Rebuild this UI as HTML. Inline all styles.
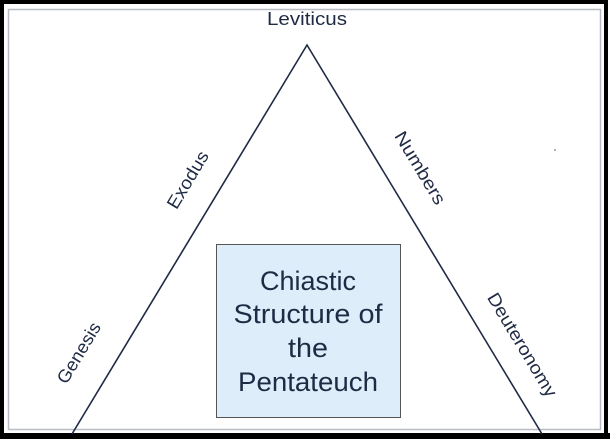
<!DOCTYPE html>
<html><head><style>
html,body{margin:0;padding:0;background:#fff;}
svg{display:block;}
text{font-family:"Liberation Sans",sans-serif;fill:#1f2a44;}
</style></head><body>
<svg width="610" height="439" viewBox="0 0 610 439" xmlns="http://www.w3.org/2000/svg">
<rect x="0" y="0" width="610" height="439" fill="#fff"/>
<rect x="2" y="2" width="604" height="433" fill="none" stroke="#000" stroke-width="4"/>
<rect x="0" y="433" width="610" height="6" fill="#000"/>
<rect x="8.5" y="9.5" width="592" height="420" fill="none" stroke="#b8bcc4" stroke-width="1.5"/>
<rect x="216.5" y="244.5" width="184" height="173" fill="#ddeefa" stroke="#555" stroke-width="1"/>
<polyline points="72,434 307,45 542,434" fill="none" stroke="#1f2a44" stroke-width="1.6"/>
<text x="307" y="25" font-size="18" text-anchor="middle" textLength="80" lengthAdjust="spacingAndGlyphs">Leviticus</text>
<text font-size="18" text-anchor="middle" transform="translate(193,183) rotate(-59)" textLength="64" lengthAdjust="spacingAndGlyphs">Exodus</text>
<text font-size="18" text-anchor="middle" transform="translate(84,356) rotate(-59)" textLength="68" lengthAdjust="spacingAndGlyphs">Genesis</text>
<text font-size="18" text-anchor="middle" transform="translate(415,171) rotate(59)" textLength="82" lengthAdjust="spacingAndGlyphs">Numbers</text>
<text font-size="18" text-anchor="middle" transform="translate(517,348) rotate(59)" textLength="118" lengthAdjust="spacingAndGlyphs">Deuteronomy</text>
<g font-size="27" text-anchor="middle">
<text x="308" y="290" textLength="96" lengthAdjust="spacingAndGlyphs">Chiastic</text>
<text x="308" y="323" textLength="149" lengthAdjust="spacingAndGlyphs">Structure of</text>
<text x="308" y="357" textLength="40" lengthAdjust="spacingAndGlyphs">the</text>
<text x="308" y="391" textLength="140" lengthAdjust="spacingAndGlyphs">Pentateuch</text>
</g>
<circle cx="555" cy="150" r="0.8" fill="#555"/>
</svg>
</body></html>
